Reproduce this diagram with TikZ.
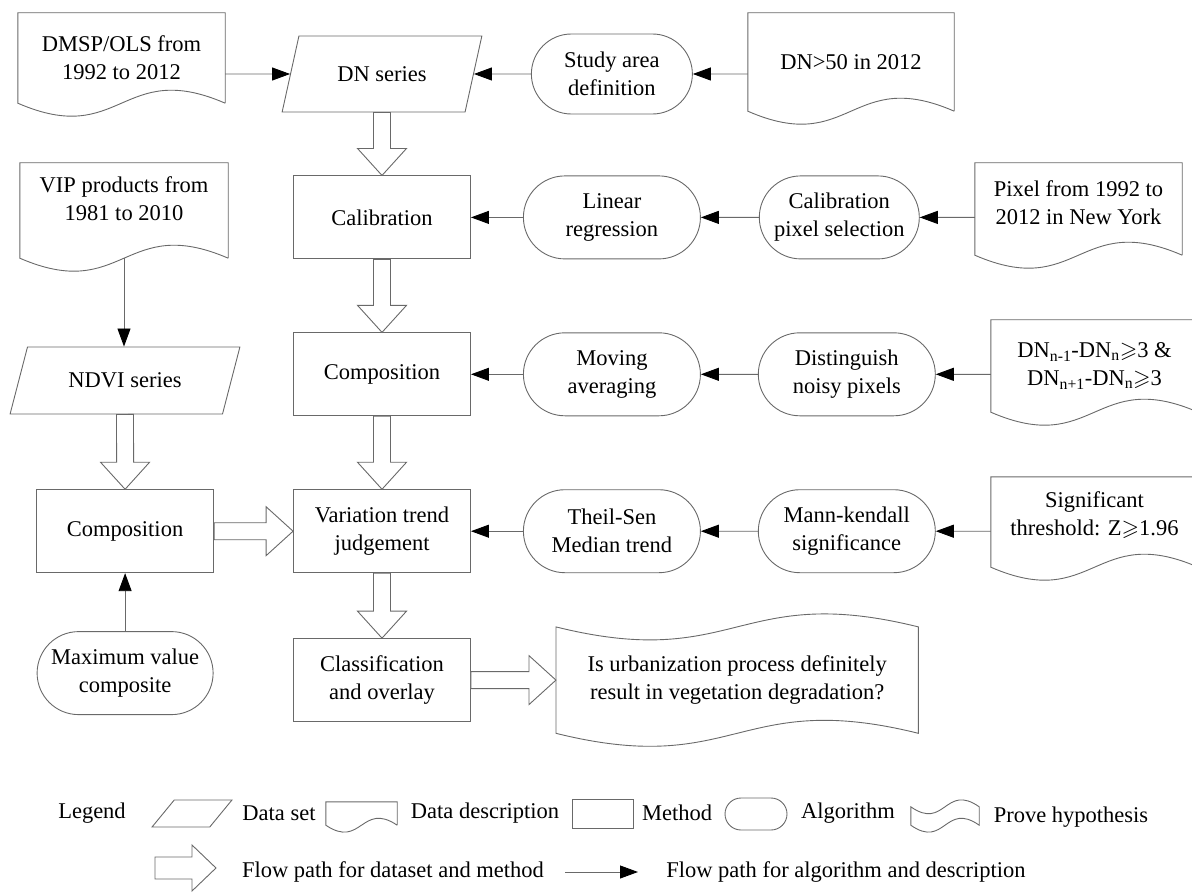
\documentclass[tikz,border=0pt]{standalone}
\usepackage{fontspec}
\setmainfont{Liberation Serif}
\usepackage{amssymb}
\usetikzlibrary{arrows.meta,calc,positioning,shapes.geometric,shapes.misc}

\definecolor{edgegray}{RGB}{105,105,105}

% sizes of the hollow flow arrows
\newcommand{\fatshaft}{8.5pt}
\newcommand{\fathead}{24.5pt}
\newcommand{\fatlen}{27pt}

% hollow arrow from #1 to #2
\newcommand{\flowarrow}[2]{%
  \coordinate (fh) at ($(#2)!\fatlen!(#1)$);
  \draw[fat] ($(#1)!\fatshaft!90:(#2)$) -- ($(fh)!\fatshaft!90:(#2)$)
    -- ($(fh)!\fathead!90:(#2)$) -- (#2) -- ($(fh)!\fathead!-90:(#2)$)
    -- ($(fh)!\fatshaft!-90:(#2)$) -- ($(#1)!\fatshaft!-90:(#2)$) -- cycle;}

% outline of a document node, wavy bottom #3 below the node
\newcommand{\docline}[3]{%
  \draw[grayline] ($(#1.south east)+(0,#3)$) -- (#1.north east) -- (#1.north west) -- ($(#1.south west)+(0,#3)$)
    .. controls ($(#1.south)+(0,#3+#2)$) and ($(#1.south)+(0,#3-#2)$) .. ($(#1.south east)+(0,#3)$);}

% outline of a hypothesis node, wavy top and bottom
\newcommand{\proveline}[2]{%
  \draw[grayline] (#1.north west) .. controls ($(#1.north)+(0,#2)$) and ($(#1.north)+(0,-#2)$) .. (#1.north east)
    -- (#1.south east) .. controls ($(#1.south)+(0,-#2)$) and ($(#1.south)+(0,#2)$) .. (#1.south west) -- cycle;}

\tikzset{
  grayline/.style={draw=edgegray, line width=0.9pt},
  method/.style={grayline, rectangle, minimum width=177pt, minimum height=83pt, align=center, inner sep=2pt},
  algo/.style={grayline, rounded rectangle, minimum width=181pt, minimum height=83pt, align=center, inner sep=2pt},
  dataset/.style={grayline, trapezium, trapezium left angle=66, trapezium right angle=114,
    trapezium stretches=true, minimum width=200pt, minimum height=76pt, align=center},
  desc/.style={rectangle, minimum width=207pt, minimum height=92pt, align=center, inner sep=0pt},
  link/.style={grayline, ->},
  fat/.style={draw=edgegray, line width=0.9pt, fill=white, line join=miter},
}

\begin{document}
\begin{tikzpicture}[x={(1pt,0pt)}, y={(0pt,-1pt)},
  >={Triangle[length=18pt,width=13pt,color=black]},
  every node/.style={font=\fontsize{22.5}{28}\selectfont}]
\useasboundingbox (0,0) rectangle (1192,893);

% main column
  \node[dataset] (dn) at (382,74) {DN series};
  \node[method, below=63pt of dn] (calib) {Calibration};
  \node[method, below=73pt of calib] (comp) {Composition};
  \node[method, below=73pt of comp] (trend) {Variation trend\\judgement};
  \node[method, below=65pt of trend] (classif) {Classification\\and overlay};

% algorithms
  \node[algo, minimum width=165pt, minimum height=80pt, right=57pt of dn] (study) {Study area\\definition};
  \node[algo, right=52pt of calib] (linreg) {Linear\\regression};
  \node[algo, minimum width=164pt, right=58pt of linreg] (calpix) {Calibration\\pixel selection};
  \node[algo, right=52pt of comp] (moving) {Moving\\averaging};
  \node[algo, right=57pt of moving] (distin) {Distinguish\\noisy pixels};
  \node[algo, right=52pt of trend] (theil) {Theil-Sen\\Median trend};
  \node[algo, right=57pt of theil] (mann) {Mann-kendall\\significance};

% descriptions
  \node[desc, minimum height=90pt] (dmsp) at (121.5,58) {DMSP/OLS from\\1992 to 2012};
  \node[desc, minimum width=206pt, minimum height=98pt] (dnfifty) at (851,62) {DN>50 in 2012};
  \node[desc, minimum width=208pt, minimum height=72pt] (vip) at (124,199) {VIP products from\\1981 to 2010};
  \node[desc, minimum height=80pt] (pixel) at (1078.5,203) {Pixel from 1992 to\\2012 in New York};
  \node[desc] (dnn) at (1094.5,366) {DN\textsubscript{n-1}-DN\textsubscript{n}$\geqslant$3 \&\\DN\textsubscript{n+1}-DN\textsubscript{n}$\geqslant$3};
  \node[desc, minimum height=76pt] (sig) at (1094.5,515) {Significant\\threshold: Z$\geqslant$1.96};
  \docline{dmsp}{45}{0}
  \docline{dnfifty}{45}{0}
  \docline{vip}{45}{23}
  \docline{pixel}{45}{12}
  \docline{dnn}{45}{0}
  \docline{sig}{45}{14}

% left column
  \node[dataset, minimum width=230pt, minimum height=67pt, trapezium left angle=64, trapezium right angle=116] (ndvi) at (125,380.5) {NDVI series};
  \node[method, left=79pt of trend] (compl) {Composition};
  \node[algo, minimum width=180pt, below=58pt of compl] (maxv) {Maximum value\\composite};

% hypothesis
  \node[desc, minimum width=362pt, minimum height=106pt, right=85pt of classif] (urb)
    {Is urbanization process definitely\\result in vegetation degradation?};
  \proveline{urb}{45}

% define the links
  \draw[link] (dmsp.east |- dn) -- (dn);
  \draw[link] (study) -- (dn);
  \draw[link] (dnfifty.west |- study) -- (study);
  \draw[link] (linreg) -- (calib);
  \draw[link] (calpix) -- (linreg);
  \draw[link] (pixel.west |- calpix) -- (calpix);
  \draw[link] (moving) -- (comp);
  \draw[link] (distin) -- (moving);
  \draw[link] (dnn.west |- distin) -- (distin);
  \draw[link] (theil) -- (trend);
  \draw[link] (mann) -- (theil);
  \draw[link] (sig.west |- mann) -- (mann);
  \draw[link] ($(vip.south)+(0,23)$) -- (vip.south |- ndvi.north);
  \draw[link] (maxv.north) -- (maxv.north |- compl.south);

% flow of data and methods
  \flowarrow{dn.south}{calib.north}
  \flowarrow{calib.south}{comp.north}
  \flowarrow{comp.south}{trend.north}
  \flowarrow{trend.south}{classif.north}
  \flowarrow{ndvi.south}{compl.north}
  \flowarrow{compl.east}{trend.west}
  \flowarrow{classif.east}{urb.west}

% legend
  \node (lgname) at (92,813) {Legend};
  \node[dataset, trapezium left angle=58, trapezium right angle=122, minimum width=80pt, minimum height=27pt] (lgset) at (192,813.5) {};
  \node (lgsettxt) at (279,813) {Data set};
  \node[desc, minimum width=71pt, minimum height=23pt] (lgdesc) at (361.5,813.5) {};
  \docline{lgdesc}{24}{0}
  \node (lgdesctxt) at (485,813) {Data description};
  \node[method, minimum width=61pt, minimum height=29pt] (lgmeth) at (602.5,813.5) {};
  \node (lgmethtxt) at (677,813) {Method};
  \node[algo, minimum width=66pt, minimum height=32pt] (lgalgo) at (756,814) {};
  \node (lgalgotxt) at (848,813) {Algorithm};
  \node[desc, minimum width=68pt, minimum height=18pt] (lgprove) at (945,816) {};
  \proveline{lgprove}{24}
  \node (lgprovetxt) at (1071,817) {Prove hypothesis};

  \coordinate (lgfa) at (155,868);
  \coordinate (lgfb) at (216,868);
  \begin{scope}
    \renewcommand{\fatshaft}{11pt}
    \renewcommand{\fathead}{23pt}
    \renewcommand{\fatlen}{24pt}
    \flowarrow{lgfa}{lgfb}
  \end{scope}
  \node (lgfattxt) at (393,872) {Flow path for dataset and method};
  \coordinate (lgta) at (565,872);
  \coordinate (lgtb) at (638,872);
  \draw[link] (lgta) -- (lgtb);
  \node (lgthintxt) at (846,872) {Flow path for algorithm and description};

\end{tikzpicture}
\end{document}
